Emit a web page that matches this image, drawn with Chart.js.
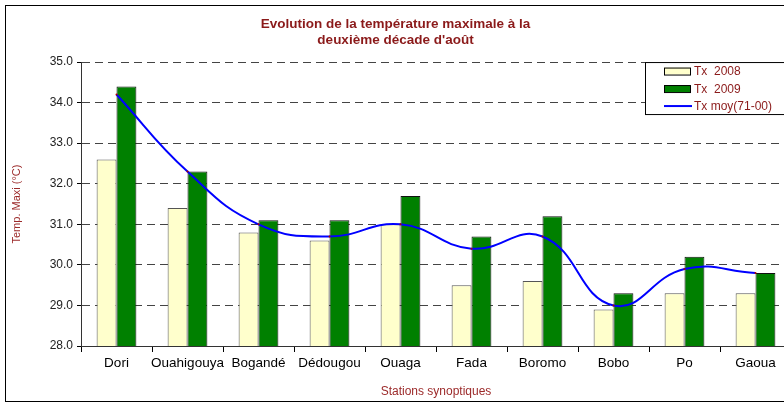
<!DOCTYPE html>
<html>
<head>
<meta charset="utf-8">
<script src="https://cdn.jsdelivr.net/npm/chart.js@4.4.0/dist/chart.umd.min.js"></script>
<style>
  html, body { margin: 0; padding: 0; overflow: hidden; background: #fff; }
  #wrap { width: 810px; height: 405px; }
</style>
</head>
<body>
<div id="wrap"><canvas id="chart" width="810" height="405"></canvas></div>
<script>
const stations = ['Dori', 'Ouahigouya', 'Bogandé', 'Dédougou', 'Ouaga', 'Fada', 'Boromo', 'Bobo', 'Po', 'Gaoua'];
const tx2008 = [32.6, 31.4, 30.8, 30.6, 31.0, 29.5, 29.6, 28.9, 29.3, 29.3];
const tx2009 = [34.4, 32.3, 31.1, 31.1, 31.7, 30.7, 31.2, 29.3, 30.2, 29.8];
const txMoy = [34.2, 32.3, 31.0, 30.7, 31.0, 30.4, 30.7, 29.0, 29.9, 29.8];
const titleLines = ['Evolution de la température maximale à la', "deuxième décade d'août"];

const darkRed = '#8b1a1a';
const fontFam = '"Liberation Sans", Arial, sans-serif';

// outer frame, like the excel chart border
const frame = {
  id: 'frame',
  beforeDraw(chart) {
    const ctx = chart.ctx;
    ctx.save();
    ctx.fillStyle = '#fff';
    ctx.fillRect(0, 0, chart.width, chart.height);
    ctx.strokeStyle = '#000';
    ctx.lineWidth = 1;
    ctx.strokeRect(5.5, 5.5, chart.width, 396);
    ctx.restore();
  }
};

// legend box inside the plot, top right
const boxLegend = {
  id: 'boxLegend',
  afterDatasetsDraw(chart) {
    const ctx = chart.ctx;
    const area = chart.chartArea;
    const x = area.right - 146, y = area.top;
    ctx.save();
    ctx.fillStyle = '#fff';
    ctx.fillRect(x, y, 160, 52);
    ctx.strokeStyle = '#000';
    ctx.lineWidth = 1;
    ctx.strokeRect(x + 0.5, y + 0.5, 160, 52);
    ctx.font = '12px ' + fontFam;
    ctx.textBaseline = 'middle';
    chart.data.datasets.forEach((ds, i) => {
      const cy = y + 9 + i * 17.5;
      if (ds.type === 'line') {
        ctx.strokeStyle = ds.borderColor;
        ctx.lineWidth = 2;
        ctx.beginPath();
        ctx.moveTo(x + 19, cy);
        ctx.lineTo(x + 47, cy);
        ctx.stroke();
      } else {
        ctx.fillStyle = ds.backgroundColor;
        ctx.fillRect(x + 19, cy - 3.5, 26, 7);
        ctx.strokeStyle = '#000';
        ctx.lineWidth = 1;
        ctx.strokeRect(x + 19.5, cy - 3, 26, 7);
      }
      ctx.fillStyle = darkRed;
      ctx.fillText(ds.label, x + 49, cy + 1);
    });
    ctx.restore();
  }
};

new Chart(document.getElementById('chart'), {
  type: 'bar',
  data: {
    labels: stations,
    datasets: [{
      label: 'Tx  2008',
      data: tx2008,
      backgroundColor: '#ffffcc',
      borderColor: '#555',
      borderWidth: 1,
      categoryPercentage: 0.56,
      barPercentage: 1.0,
      order: 1
    }, {
      label: 'Tx  2009',
      data: tx2009,
      backgroundColor: '#008000',
      borderColor: '#111',
      borderWidth: 1,
      categoryPercentage: 0.56,
      barPercentage: 1.0,
      order: 1
    }, {
      type: 'line',
      label: 'Tx moy(71-00)',
      data: txMoy,
      borderColor: '#0000ff',
      borderWidth: 2,
      tension: 0.45,
      pointRadius: 1,
      pointBackgroundColor: '#b00000',
      pointBorderWidth: 0,
      order: 0
    }]
  },
  options: {
    responsive: false,
    devicePixelRatio: 1,
    animation: false,
    layout: { padding: { top: 5, right: 19, bottom: 0, left: 0 } },
    plugins: {
      legend: { display: false },
      tooltip: { enabled: false },
      title: {
        display: true,
        text: titleLines,
        color: darkRed,
        font: { family: fontFam, size: 13.5, weight: 'bold', lineHeight: 1.15 },
        padding: { top: 12, bottom: 14 }
      }
    },
    scales: {
      x: {
        grid: {
          drawOnChartArea: false,
          drawTicks: true,
          tickLength: 6,
          color: '#000'
        },
        border: { color: '#333', width: 1 },
        ticks: {
          color: '#000',
          padding: 3,
          maxRotation: 0,
          minRotation: 0,
          autoSkip: false,
          font: { family: fontFam, size: 13.5 }
        },
        title: {
          display: true,
          text: 'Stations synoptiques',
          color: '#9c2a2a',
          font: { family: fontFam, size: 12 },
          padding: { top: 4, bottom: 6 }
        },
        afterFit(scale) { scale.height = 59; }
      },
      y: {
        min: 28,
        max: 35,
        grid: {
          color: '#444',
          tickBorderDash: [],
          tickColor: '#000',
          tickLength: 4
        },
        border: { color: '#333', width: 1, dash: [8, 5] },
        ticks: {
          stepSize: 1,
          color: '#222',
          padding: 4,
          font: { family: fontFam, size: 12 },
          callback: v => v.toFixed(1)
        },
        title: {
          display: true,
          text: 'Temp. Maxi (°C)',
          color: '#9c2a2a',
          font: { family: fontFam, size: 11 },
          padding: { top: 10, bottom: 0 }
        },
        afterFit(scale) { scale.width = 81; }
      }
    }
  },
  plugins: [frame, boxLegend]
});
</script>
</body>
</html>
